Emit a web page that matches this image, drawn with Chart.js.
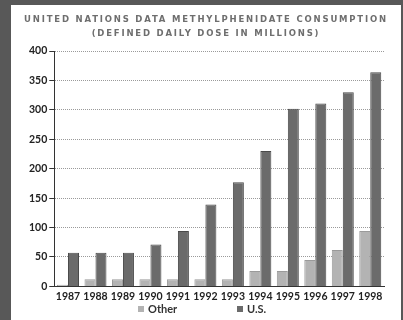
<!DOCTYPE html>
<html>
<head>
<meta charset="utf-8">
<script src="https://cdn.jsdelivr.net/npm/chart.js@4.4.0/dist/chart.umd.min.js"></script>
<style>
  html, body { margin: 0; padding: 0; }
  body { width: 403px; height: 320px; background: #585858; position: relative; overflow: hidden; }
  #panel { position: absolute; left: 11px; top: 5px; width: 390px; height: 315px; background: #fff; }
  #ttl { position: absolute; left: 0; top: 7px; width: 390px; text-align: center; color: #6e6e6e;
         font: bold 8.5px "DejaVu Sans", sans-serif; letter-spacing: 1.8px; line-height: 14px; }
  #wrap { position: absolute; left: 0; top: 0; width: 390px; height: 315px; }
  #leg { position: absolute; top: 297px; left: 0; width: 390px; height: 14px; font: bold 11px Lato, sans-serif; color: #333; }
  #leg span { position: absolute; top: 0; white-space: nowrap; }
  #leg i { display: inline-block; width: 6px; height: 6px; margin-right: 4px; vertical-align: 1px; }
</style>
</head>
<body>
<div id="panel">
  <div id="wrap"><canvas id="c"></canvas></div>
  <div id="ttl">UNITED NATIONS DATA METHYLPHENIDATE CONSUMPTION<br>(DEFINED DAILY DOSE IN MILLIONS)</div>
  <div id="leg"></div>
</div>
<script>
// valores (DDD em milhões)
const years = ['1987', '1988', '1989', '1990', '1991', '1992', '1993', '1994', '1995', '1996', '1997', '1998'];
const otherVals = [3, 12, 12, 12, 12, 12, 12, 26, 26, 45, 62, 94];
const usVals = [57, 57, 57, 71, 94, 139, 177, 230, 302, 311, 330, 364];
const yTicks = [0, 50, 100, 150, 200, 250, 300, 350, 400];
const seriesNames = ['Other', 'U.S.'];
const seriesColors = ['#b3b3b3', '#6b6b6b'];

const tickFont = { family: 'Lato', size: 10.5, weight: 'bold' };

const chart = new Chart(document.getElementById('c'), {
  type: 'bar',
  data: {
    labels: years,
    datasets: [
      { label: seriesNames[0], data: otherVals, backgroundColor: seriesColors[0], borderColor: '#9a9a9a', borderWidth: 1,
        categoryPercentage: 0.8, barPercentage: 1 },
      { label: seriesNames[1], data: usVals, backgroundColor: seriesColors[1], borderColor: '#4a4a4a', borderWidth: 1,
        categoryPercentage: 0.8, barPercentage: 1 }
    ]
  },
  options: {
    responsive: true, maintainAspectRatio: false, animation: false,
    layout: { padding: { top: 46, right: 17, left: 16, bottom: 13 } },
    plugins: { legend: { display: false }, tooltip: { enabled: false } },
    scales: {
      x: {
        grid: { display: false, drawTicks: false },
        border: { color: '#333', width: 1 },
        ticks: { color: '#222', font: tickFont, padding: 4, maxRotation: 0, autoSkip: false }
      },
      y: {
        min: 0, max: 400,
        afterBuildTicks: ax => { ax.ticks = yTicks.map(v => ({ value: v })); },
        grid: { color: '#9a9a9a', lineWidth: 1, tickColor: '#333', tickLength: 5 },
        border: { color: '#333', dash: [1, 1] },
        ticks: { color: '#222', font: tickFont, padding: 2 }
      }
    }
  },
  plugins: [{
    id: 'dottedGrid',
    beforeInit(c) { c.options.scales.y.grid.borderDash = [1, 2]; }
  }]
});

// legenda em HTML (espaçamento largo entre itens, como no original)
const legX = [127, 226];
$leg = document.getElementById('leg');
seriesNames.forEach((n, i) => {
  const s = document.createElement('span');
  s.style.left = legX[i] + 'px';
  s.innerHTML = '<i style="background:' + seriesColors[i] + '"></i>' + n;
  $leg.appendChild(s);
});
</script>
</body>
</html>
